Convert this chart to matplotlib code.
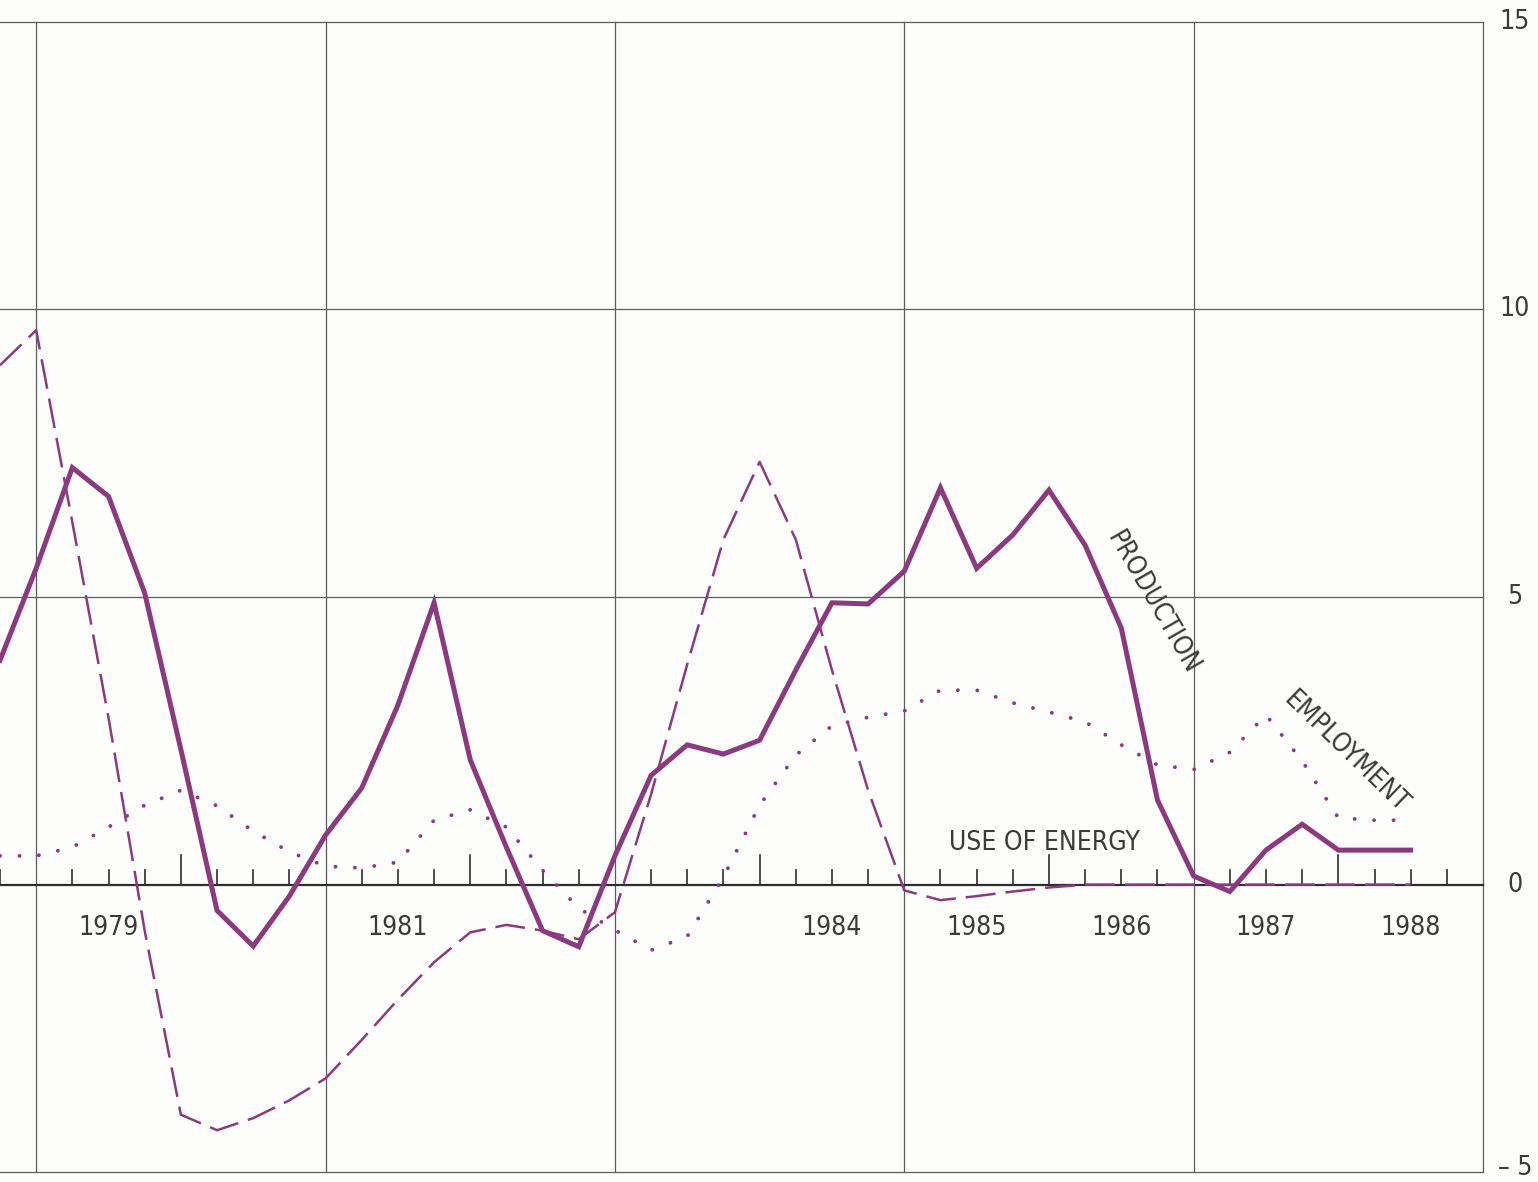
import numpy as np
import matplotlib
matplotlib.use("Agg")
import matplotlib.pyplot as plt

# quarterly points, 1978 Q4 .. 1988 Q3
quarters = np.arange(1978.75, 1988.6, 0.25)

production = [3.9, 5.5, 7.25, 6.75, 5.07, 2.35, -0.45, -1.07, -0.2, 0.86,
              1.68, 3.12, 4.9, 2.17, 0.65, -0.8, -1.08, 0.5, 1.9, 2.43,
              2.27, 2.51, 3.73, 4.9, 4.88, 5.45, 6.9, 5.5, 6.08, 6.86,
              5.9, 4.46, 1.47, 0.15, -0.12, 0.6, 1.05, 0.6, 0.6, 0.6]

energy = [9.03, 9.64, 6.3, 2.9, -0.8, -4.0, -4.27, -4.06, -3.75, -3.37,
          -2.7, -2.0, -1.35, -0.83, -0.7, -0.8, -0.95, -0.48, 1.57, 3.83,
          6.0, 7.35, 6.0, 3.73, 1.64, -0.1, -0.27, -0.2, -0.12, -0.05,
          0.0, 0.0, 0.0, 0.0, 0.0, 0.0, 0.0, 0.0, 0.0, 0.0]

employment = [0.5, 0.5, 0.65, 1.0, 1.38, 1.64, 1.37, 0.93, 0.57, 0.32,
              0.29, 0.39, 1.12, 1.3, 1.0, 0.25, -0.41, -0.79, -1.14, -0.9,
              0.13, 1.38, 2.25, 2.76, 2.91, 3.02, 3.38, 3.38, 3.16, 3.0,
              2.83, 2.43, 2.08, 2.0, 2.3, 2.95, 2.15, 1.16, 1.12, 1.12]

year_labels = ["1979", "1981", "1984", "1985", "1986", "1987", "1988"]
y_labels = ["15", "10", "5", "0", "\u2013 5"]
y_values = [15, 10, 5, 0, -5]

purple = "#8c3a7f"
grid_col = "#5c5c5c"
text_col = "#3a3a3a"
x0, x1 = 1978.75, 1989.0

fig = plt.figure(figsize=(15.38, 11.82), dpi=100)
fig.patch.set_facecolor("#fdfdfb")
ax = fig.add_axes([0, 0, 1, 1])
ax.set_xlim(1978.75, 1989.38)
ax.set_ylim(-5.17, 15.38)
ax.axis("off")

# grid
for yv in [15, 10, 5, -5]:
    ax.plot([x0, x1], [yv, yv], color=grid_col, lw=0.9, zorder=1)
for xv in range(1979, 1990, 2):
    ax.plot([xv, xv], [-5, 15], color=grid_col, lw=0.9, zorder=1)

# zero axis with quarter ticks
ax.plot([x0, x1], [0, 0], color="#2e2e2e", lw=1.6, zorder=2)
for q in np.arange(1978.75, 1989.01, 0.25):
    yr = round(q)
    if abs(q - yr) < 1e-6 and yr % 2 == 1:
        continue
    h = 0.52 if abs(q - yr) < 1e-6 else 0.25
    ax.plot([q, q], [0, h], color="#2e2e2e", lw=1.2, zorder=2)

# series
ax.plot(quarters, energy, color=purple, lw=1.8, dashes=(12, 4), zorder=3)
ax.plot(quarters, employment, color=purple, lw=2.8, dashes=(0.01, 5.0),
        dash_capstyle="round", zorder=3)
ax.plot(quarters, production, color=purple, lw=3.6, solid_joinstyle="miter",
        zorder=4)

fs = dict(fontsize=19, color=text_col, fontstretch="condensed",
          fontweight="light")

for lab in year_labels:
    yr = int(lab)
    ax.text(yr + 0.5, -0.76, lab, ha="center", va="center", **fs)

for lab, yv in zip(y_labels, y_values):
    ax.text(1989.22, max(yv, -4.93), lab, ha="center", va="center", **fs)

ax.text(1985.97, 0.72, "USE OF ENERGY", ha="center", va="center", **fs)
ax.text(1986.72, 4.9, "PRODUCTION", ha="center", va="center",
        rotation=-60, rotation_mode="anchor", **fs)
ax.text(1988.05, 2.3, "EMPLOYMENT", ha="center", va="center",
        rotation=-44, rotation_mode="anchor", **fs)

fig.savefig("out.png", dpi=100, facecolor=fig.get_facecolor())
